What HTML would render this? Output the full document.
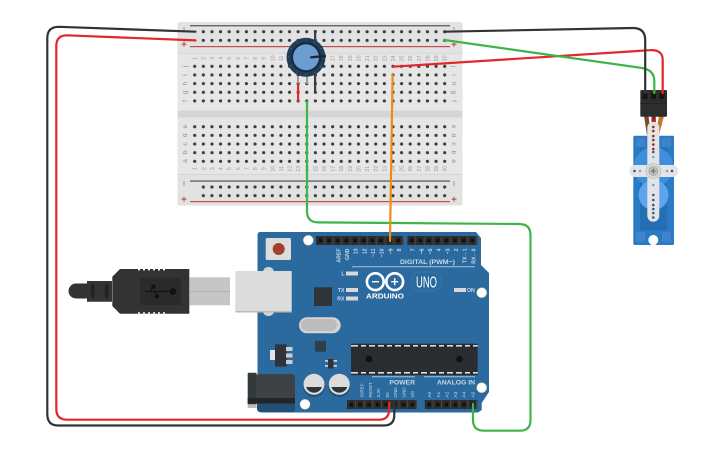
<!DOCTYPE html>
<html><head><meta charset="utf-8"><style>
html,body{margin:0;padding:0;background:#fff}
svg{display:block;font-family:"Liberation Sans",sans-serif}
.n{font-size:5.2px;fill:#999;text-anchor:middle}
.l{font-size:6.5px;fill:#8a8a8a;text-anchor:middle}
.p{font-size:5.2px;fill:#c9d9e6;font-weight:bold;text-anchor:end}
.q{font-size:4.6px;fill:#c9d9e6;text-anchor:start}
.w{fill:none;stroke-width:2.2;stroke-linecap:round;stroke-linejoin:round}
</style></head><body>
<svg width="725" height="453" viewBox="0 0 725 453" xmlns="http://www.w3.org/2000/svg">
<defs>
<pattern id="h" patternUnits="userSpaceOnUse" x="190.4" y="62" width="8.62" height="8.65"><circle cx="4.31" cy="4.32" r="1.6" fill="#3a3a3a"/></pattern>
<pattern id="r1" patternUnits="userSpaceOnUse" x="199" y="27.4" width="8.62" height="8.65"><circle cx="4.31" cy="4.32" r="1.6" fill="#3a3a3a"/></pattern>
<pattern id="r2" patternUnits="userSpaceOnUse" x="199" y="182.7" width="8.62" height="8.65"><circle cx="4.31" cy="4.32" r="1.6" fill="#3a3a3a"/></pattern>
<pattern id="m" patternUnits="userSpaceOnUse" x="190.4" y="122.4" width="8.62" height="8.65"><circle cx="4.31" cy="4.32" r="1.6" fill="#3a3a3a"/></pattern>
<pattern id="hd1" patternUnits="userSpaceOnUse" x="316" y="236" width="8.66" height="9"><rect x="2.6" y="2.6" width="3.6" height="3.8" fill="#111"/><rect x="8.1" width=".6" height="9" fill="#555"/></pattern>
<pattern id="hd2" patternUnits="userSpaceOnUse" x="407.3" y="236" width="8.66" height="9"><rect x="2.6" y="2.6" width="3.6" height="3.8" fill="#111"/><rect x="8.1" width=".6" height="9" fill="#555"/></pattern>
<pattern id="hd3" patternUnits="userSpaceOnUse" x="347" y="400" width="8.7" height="9"><rect x="2.6" y="2.6" width="3.6" height="3.8" fill="#111"/><rect x="8.1" width=".6" height="9" fill="#555"/></pattern>
<pattern id="hd4" patternUnits="userSpaceOnUse" x="424.7" y="400" width="8.7" height="9"><rect x="2.6" y="2.6" width="3.6" height="3.8" fill="#111"/><rect x="8.1" width=".6" height="9" fill="#555"/></pattern>
</defs>

<!-- Breadboard -->
<rect x="177.5" y="22" width="285" height="183.5" rx="2" fill="#e2e2e2"/>
<rect x="177.5" y="53" width="285" height="121" fill="#e6e6e6"/>
<rect x="177.5" y="53" width="285" height=".7" fill="#d2d2d2"/>
<rect x="177.5" y="174" width="285" height=".7" fill="#d2d2d2"/>
<rect x="177.5" y="110.7" width="285" height="6.8" fill="#d5d5d5"/>
<rect x="190" y="25" width="260" height="1.4" fill="#666"/>
<rect x="190" y="46" width="260" height="1.2" fill="#b9504c"/>
<rect x="190" y="180.4" width="260" height="1.4" fill="#666"/>
<rect x="190" y="201" width="260" height="1.2" fill="#b9504c"/>
<rect x="199" y="27.4" width="250" height="17.3" fill="url(#r1)"/>
<rect x="199" y="182.7" width="250" height="17.3" fill="url(#r2)"/>
<rect x="190.4" y="62" width="258.6" height="43.25" fill="url(#h)"/>
<rect x="190.4" y="122.4" width="258.6" height="43.25" fill="url(#m)"/>
<g fill="#c0413a"><rect x="181.5" y="43.7" width="5" height="1"/><rect x="183.5" y="41.7" width="1" height="5"/><rect x="451.5" y="43.7" width="5" height="1"/><rect x="453.5" y="41.7" width="1" height="5"/><rect x="181.5" y="198.7" width="5" height="1"/><rect x="183.5" y="196.7" width="1" height="5"/><rect x="451.5" y="198.7" width="5" height="1"/><rect x="453.5" y="196.7" width="1" height="5"/></g>
<g fill="#999"><rect x="183.5" y="27" width="1" height="5"/><rect x="453.5" y="27" width="1" height="5"/><rect x="183.5" y="181" width="1" height="5"/><rect x="453.5" y="181" width="1" height="5"/></g>
<g class="nums">
<text class="n" transform="translate(196.7,58.3) rotate(-90)">1</text><text class="n" transform="translate(205.3,58.3) rotate(-90)">2</text><text class="n" transform="translate(213.9,58.3) rotate(-90)">3</text><text class="n" transform="translate(222.6,58.3) rotate(-90)">4</text><text class="n" transform="translate(231.2,58.3) rotate(-90)">5</text><text class="n" transform="translate(239.8,58.3) rotate(-90)">6</text><text class="n" transform="translate(248.4,58.3) rotate(-90)">7</text><text class="n" transform="translate(257,58.3) rotate(-90)">8</text><text class="n" transform="translate(265.7,58.3) rotate(-90)">9</text><text class="n" transform="translate(274.3,58.3) rotate(-90)">10</text><text class="n" transform="translate(282.9,58.3) rotate(-90)">11</text><text class="n" transform="translate(334.6,58.3) rotate(-90)">17</text><text class="n" transform="translate(343.2,58.3) rotate(-90)">18</text><text class="n" transform="translate(351.9,58.3) rotate(-90)">19</text><text class="n" transform="translate(360.5,58.3) rotate(-90)">20</text><text class="n" transform="translate(369.1,58.3) rotate(-90)">21</text><text class="n" transform="translate(377.7,58.3) rotate(-90)">22</text><text class="n" transform="translate(386.3,58.3) rotate(-90)">23</text><text class="n" transform="translate(395,58.3) rotate(-90)">24</text><text class="n" transform="translate(403.6,58.3) rotate(-90)">25</text><text class="n" transform="translate(412.2,58.3) rotate(-90)">26</text><text class="n" transform="translate(420.8,58.3) rotate(-90)">27</text><text class="n" transform="translate(429.4,58.3) rotate(-90)">28</text><text class="n" transform="translate(438.1,58.3) rotate(-90)">29</text><text class="n" transform="translate(446.7,58.3) rotate(-90)">30</text>
<text class="n" transform="translate(196.7,168.7) rotate(-90)">1</text><text class="n" transform="translate(205.3,168.7) rotate(-90)">2</text><text class="n" transform="translate(213.9,168.7) rotate(-90)">3</text><text class="n" transform="translate(222.6,168.7) rotate(-90)">4</text><text class="n" transform="translate(231.2,168.7) rotate(-90)">5</text><text class="n" transform="translate(239.8,168.7) rotate(-90)">6</text><text class="n" transform="translate(248.4,168.7) rotate(-90)">7</text><text class="n" transform="translate(257,168.7) rotate(-90)">8</text><text class="n" transform="translate(265.7,168.7) rotate(-90)">9</text><text class="n" transform="translate(274.3,168.7) rotate(-90)">10</text><text class="n" transform="translate(282.9,168.7) rotate(-90)">11</text><text class="n" transform="translate(291.5,168.7) rotate(-90)">12</text><text class="n" transform="translate(300.1,168.7) rotate(-90)">13</text><text class="n" transform="translate(308.8,168.7) rotate(-90)">14</text><text class="n" transform="translate(317.4,168.7) rotate(-90)">15</text><text class="n" transform="translate(326,168.7) rotate(-90)">16</text><text class="n" transform="translate(334.6,168.7) rotate(-90)">17</text><text class="n" transform="translate(343.2,168.7) rotate(-90)">18</text><text class="n" transform="translate(351.9,168.7) rotate(-90)">19</text><text class="n" transform="translate(360.5,168.7) rotate(-90)">20</text><text class="n" transform="translate(369.1,168.7) rotate(-90)">21</text><text class="n" transform="translate(377.7,168.7) rotate(-90)">22</text><text class="n" transform="translate(386.3,168.7) rotate(-90)">23</text><text class="n" transform="translate(395,168.7) rotate(-90)">24</text><text class="n" transform="translate(403.6,168.7) rotate(-90)">25</text><text class="n" transform="translate(412.2,168.7) rotate(-90)">26</text><text class="n" transform="translate(420.8,168.7) rotate(-90)">27</text><text class="n" transform="translate(429.4,168.7) rotate(-90)">28</text><text class="n" transform="translate(438.1,168.7) rotate(-90)">29</text><text class="n" transform="translate(446.7,168.7) rotate(-90)">30</text>
<text class="l" transform="translate(187,66.3) rotate(-90)">j</text><text class="l" transform="translate(187,75) rotate(-90)">i</text><text class="l" transform="translate(187,83.7) rotate(-90)">h</text><text class="l" transform="translate(187,92.3) rotate(-90)">g</text><text class="l" transform="translate(187,101) rotate(-90)">f</text>
<text class="l" transform="translate(187,126.7) rotate(-90)">e</text><text class="l" transform="translate(187,135.3) rotate(-90)">d</text><text class="l" transform="translate(187,144) rotate(-90)">c</text><text class="l" transform="translate(187,152.3) rotate(-90)">b</text><text class="l" transform="translate(187,161) rotate(-90)">a</text>
<text class="l" transform="translate(452,66.3) rotate(90)">j</text><text class="l" transform="translate(452,75) rotate(90)">i</text><text class="l" transform="translate(452,83.7) rotate(90)">h</text><text class="l" transform="translate(452,92.3) rotate(90)">g</text><text class="l" transform="translate(452,101) rotate(90)">f</text>
<text class="l" transform="translate(452,126.7) rotate(90)">e</text><text class="l" transform="translate(452,135.3) rotate(90)">d</text><text class="l" transform="translate(452,144) rotate(90)">c</text><text class="l" transform="translate(452,152.3) rotate(90)">b</text><text class="l" transform="translate(452,161) rotate(90)">a</text>
</g>

<!-- Pot -->
<rect x="314" y="30" width="2.2" height="63.5" fill="#3a3f42"/>
<rect x="297" y="76" width="2" height="8" fill="#999"/>
<rect x="306" y="76" width="2" height="8" fill="#999"/>
<rect x="297" y="83" width="2.2" height="18.5" fill="#e8262a"/>
<circle cx="306" cy="57.3" r="19.5" fill="#1f3d59"/>
<circle cx="306" cy="57.3" r="17.3" fill="none" stroke="#4c7397" stroke-width="1" stroke-dasharray="1 8"/>
<circle cx="306" cy="57.3" r="15" fill="#16283a"/>
<circle cx="306" cy="57.3" r="13" fill="#6c9dd1"/>
<path d="M310.3 56.2 L326 54.8 V57.3 L310.3 58.5Z" fill="#1c2730"/>

<!-- Arduino -->
<path d="M260 232 H476 L481 238 V265 L489 273 V392 L481.7 403 V410 L478 412.5 H262 Q257.5 412.5 257.5 408 V235 Q257.5 232 260 232Z" fill="#2b6a9e"/>
<circle cx="308.3" cy="240.3" r="4.8" fill="#fff" stroke="#f0e6c4" stroke-width=".8"/>
<circle cx="481.7" cy="292.7" r="4.8" fill="#fff" stroke="#f0e6c4" stroke-width=".8"/>
<circle cx="481.7" cy="387.7" r="4.8" fill="#fff" stroke="#f0e6c4" stroke-width=".8"/>
<circle cx="305" cy="404.3" r="4.8" fill="#fff" stroke="#f0e6c4" stroke-width=".8"/>
<rect x="316" y="236" width="87.3" height="9" fill="#2d2d2d"/><rect x="316" y="236" width="87.3" height="9" fill="url(#hd1)"/>
<rect x="407.3" y="236" width="70" height="9" fill="#2d2d2d"/><rect x="407.3" y="236" width="70" height="9" fill="url(#hd2)"/>
<rect x="347" y="400" width="70" height="9" fill="#2d2d2d"/><rect x="347" y="400" width="70" height="9" fill="url(#hd3)"/>
<rect x="424.7" y="400" width="52.6" height="9" fill="#2d2d2d"/><rect x="424.7" y="400" width="52.6" height="9" fill="url(#hd4)"/>
<rect x="265.7" y="238" width="25.3" height="22" rx="1.5" fill="#dcdcdc"/>
<circle cx="278.7" cy="249" r="6" fill="#a33f2c"/>
<rect x="263" y="267" width="11" height="49" rx="5" fill="#d4d4d4"/>
<rect x="235.3" y="271" width="56.4" height="41.5" fill="#dcdcdc"/>
<rect x="235.3" y="311" width="56.4" height="1.5" fill="#bbb"/>
<rect x="314" y="287.3" width="18" height="18.7" fill="#2e3438"/>
<rect x="299" y="317.3" width="41.7" height="16" rx="8" fill="#d4d4d4"/>
<rect x="301" y="319" width="36" height="12" rx="6" fill="#bcbcbc"/>
<rect x="315" y="340.7" width="11" height="11" fill="#2e3f4c"/>
<rect x="270" y="350" width="6" height="10" fill="#e4e4e4"/>
<rect x="275" y="344.3" width="11.7" height="22.4" fill="#2e3438"/>
<rect x="286" y="347" width="6.5" height="4" fill="#ccc"/><rect x="286" y="353.5" width="6.5" height="4" fill="#ccc"/><rect x="286" y="360" width="6.5" height="4" fill="#ccc"/>
<rect x="325" y="360" width="12" height="1.8" fill="#ccc"/><rect x="325" y="365" width="12" height="1.8" fill="#ccc"/><rect x="328" y="359" width="5.5" height="9.5" fill="#2e3438"/>
<rect x="351" y="343.7" width="126.7" height="31.5" fill="#2a2d2f"/>
<rect x="351" y="345" width="126.7" height="1.6" fill="#ddd"/>
<rect x="351" y="372" width="126.7" height="1.6" fill="#ddd"/>
<g fill="#2a2d2f"><rect x="358" y="344.5" width="3" height="3"/><rect x="366" y="344.5" width="3" height="3"/><rect x="375" y="344.5" width="3" height="3"/><rect x="384" y="344.5" width="3" height="3"/><rect x="392" y="344.5" width="3" height="3"/><rect x="401" y="344.5" width="3" height="3"/><rect x="410" y="344.5" width="3" height="3"/><rect x="418" y="344.5" width="3" height="3"/><rect x="427" y="344.5" width="3" height="3"/><rect x="436" y="344.5" width="3" height="3"/><rect x="444" y="344.5" width="3" height="3"/><rect x="453" y="344.5" width="3" height="3"/><rect x="462" y="344.5" width="3" height="3"/><rect x="470" y="344.5" width="3" height="3"/>
<rect x="358" y="371.5" width="3" height="3"/><rect x="366" y="371.5" width="3" height="3"/><rect x="375" y="371.5" width="3" height="3"/><rect x="384" y="371.5" width="3" height="3"/><rect x="392" y="371.5" width="3" height="3"/><rect x="401" y="371.5" width="3" height="3"/><rect x="410" y="371.5" width="3" height="3"/><rect x="418" y="371.5" width="3" height="3"/><rect x="427" y="371.5" width="3" height="3"/><rect x="436" y="371.5" width="3" height="3"/><rect x="444" y="371.5" width="3" height="3"/><rect x="453" y="371.5" width="3" height="3"/><rect x="462" y="371.5" width="3" height="3"/><rect x="470" y="371.5" width="3" height="3"/></g>
<circle cx="369" cy="359" r="3.4" fill="#111"/><circle cx="459.5" cy="359" r="3.4" fill="#111"/>
<!-- caps -->
<circle cx="314" cy="386" r="11" fill="#234f75"/><circle cx="339.3" cy="386" r="11" fill="#234f75"/>
<circle cx="314" cy="384.3" r="10.5" fill="#dcdcdc"/><circle cx="339.3" cy="384.3" r="10.5" fill="#dcdcdc"/>
<path d="M306 387 H322 A8.5 8.5 0 0 1 306 387Z" fill="#2e3438"/>
<path d="M331.3 387 H347.3 A8.5 8.5 0 0 1 331.3 387Z" fill="#2e3438"/>
<!-- jack -->
<rect x="257" y="400" width="38" height="12" rx="3" fill="#234f75"/>
<rect x="247.7" y="402" width="9" height="6" fill="#bdbdbd"/>
<rect x="247.7" y="372.7" width="9" height="31.6" rx="1" fill="#33383b"/>
<rect x="256" y="374" width="39" height="29" rx="3" fill="#3d4245"/>
<rect x="247.7" y="398" width="47.3" height="5.5" fill="#232527"/>

<!-- logo & text -->
<g fill="none" stroke="#fff" stroke-width="2.6"><circle cx="375.3" cy="281.7" r="8.4"/><circle cx="394.7" cy="281.7" r="8.4"/></g>
<rect x="372" y="281" width="7" height="1.4" fill="#fff"/><rect x="391.2" y="281" width="7" height="1.4" fill="#fff"/><rect x="394" y="278.2" width="1.4" height="7" fill="#fff"/>
<text x="366" y="298.3" font-size="7" font-weight="bold" textLength="38" lengthAdjust="spacingAndGlyphs" fill="#fff">ARDUINO</text>
<rect x="411" y="272" width="30" height="19" rx="9.5" fill="none" stroke="#3b7bb0" stroke-width=".7"/>
<text x="416" y="287.3" font-size="16" textLength="21" lengthAdjust="spacingAndGlyphs" fill="#fff">UNO</text>
<rect x="352" y="266.4" width="123" height=".8" fill="#c9d9e6"/>
<text x="400" y="264" font-size="6.4" font-weight="bold" fill="#c9d9e6" textLength="55" lengthAdjust="spacingAndGlyphs">DIGITAL (PWM~)</text>
<g fill="#c9d9e6" font-weight="bold" font-size="5.2"><text x="344.5" y="275.5" text-anchor="end">L</text><text x="344.5" y="292" text-anchor="end">TX</text><text x="344.5" y="300.5" text-anchor="end">RX</text><text x="467" y="292">ON</text></g>
<g fill="#d8d8d8"><rect x="346" y="271.5" width="12" height="4"/><rect x="346" y="288" width="12" height="4"/><rect x="346" y="296.5" width="12" height="4"/><rect x="454" y="288" width="12" height="4"/></g>
<g class="toplabels">
<text class="p" transform="translate(340.3,248.5) rotate(-90)">AREF</text><text class="p" transform="translate(349,248.5) rotate(-90)">GND</text><text class="p" transform="translate(357.7,248.5) rotate(-90)">13</text><text class="p" transform="translate(366.3,248.5) rotate(-90)">12</text><text class="p" transform="translate(375,248.5) rotate(-90)">~11</text><text class="p" transform="translate(383.7,248.5) rotate(-90)">~10</text><text class="p" transform="translate(392.3,248.5) rotate(-90)">~9</text><text class="p" transform="translate(401,248.5) rotate(-90)">8</text><text class="p" transform="translate(414.7,248.5) rotate(-90)">7</text><text class="p" transform="translate(423.3,248.5) rotate(-90)">~6</text><text class="p" transform="translate(432,248.5) rotate(-90)">~5</text><text class="p" transform="translate(440.7,248.5) rotate(-90)">4</text><text class="p" transform="translate(449.3,248.5) rotate(-90)">~3</text><text class="p" transform="translate(458,248.5) rotate(-90)">2</text><text class="p" transform="translate(466.7,248.5) rotate(-90)">TX→1</text><text class="p" transform="translate(475.3,248.5) rotate(-90)">RX←0</text>
</g>
<rect x="372" y="376.4" width="43" height=".8" fill="#c9d9e6"/><rect x="424" y="376.4" width="51" height=".8" fill="#c9d9e6"/>
<text x="415" y="384.3" text-anchor="end" font-size="6.8" font-weight="bold" fill="#c9d9e6">POWER</text>
<text x="475" y="384.3" text-anchor="end" font-size="6.8" font-weight="bold" fill="#c9d9e6">ANALOG IN</text>
<text class="q" transform="translate(363.4,397.5) rotate(-90)">IOREF</text><text class="q" transform="translate(371.8,397.5) rotate(-90)">RESET</text><text class="q" transform="translate(380,397.5) rotate(-90)">3.3V</text><text class="q" transform="translate(388.8,397.5) rotate(-90)">5V</text><text class="q" transform="translate(397,397.5) rotate(-90)">GND</text><text class="q" transform="translate(405.5,397.5) rotate(-90)">GND</text><text class="q" transform="translate(414,397.5) rotate(-90)">Vin</text>
<text class="q" transform="translate(431,397.5) rotate(-90)">A0</text><text class="q" transform="translate(440,397.5) rotate(-90)">A1</text><text class="q" transform="translate(448.7,397.5) rotate(-90)">A2</text><text class="q" transform="translate(457,397.5) rotate(-90)">A3</text><text class="q" transform="translate(465.7,397.5) rotate(-90)">A4</text><text class="q" transform="translate(474.3,397.5) rotate(-90)">A5</text>

<!-- USB plug -->
<rect x="189.5" y="277.3" width="40.5" height="28" fill="#c6c6c6"/>
<rect x="189.5" y="291" width="40.5" height=".8" fill="#aaa"/>
<path d="M76 283.5 H88 V298.5 H76 A7.5 7.5 0 0 1 76 283.5Z" fill="#333"/>
<path d="M87 281 H112 V301.7 H87Z" fill="#333"/>
<ellipse cx="92.7" cy="291" rx="2" ry="8" fill="#222"/><ellipse cx="106.7" cy="291" rx="2" ry="8" fill="#222"/>
<path d="M112.3 276.7 L120 269 H189.3 V313.7 H120 L112.3 306Z" fill="#333"/>
<rect x="140" y="277.7" width="41" height="27.3" fill="#2a2a2a"/>
<g stroke="#111" stroke-width="1" fill="#111"><path d="M145 291.5 H172"/><circle cx="173" cy="291.5" r="2.8"/><rect x="152" y="285" width="3" height="3"/><circle cx="157" cy="296.5" r="1.6"/><path d="M150 291.5 L153 286.5 M155 291.5 L157 296"/></g>
<g fill="#fff"><rect x="138" y="269" width="2" height="1.4"/><rect x="143" y="269" width="2" height="1.4"/><rect x="148" y="269" width="2" height="1.4"/><rect x="153" y="269" width="2" height="1.4"/><rect x="158" y="269" width="2" height="1.4"/><rect x="163" y="269" width="2" height="1.4"/><rect x="138" y="312.3" width="2" height="1.4"/><rect x="143" y="312.3" width="2" height="1.4"/><rect x="148" y="312.3" width="2" height="1.4"/><rect x="153" y="312.3" width="2" height="1.4"/><rect x="158" y="312.3" width="2" height="1.4"/><rect x="163" y="312.3" width="2" height="1.4"/></g>

<!-- Servo -->
<rect x="633.3" y="135.7" width="40.7" height="109.3" rx="1.5" fill="#2a7bc4"/>
<rect x="640" y="148" width="27" height="82" fill="#236fb5"/>
<circle cx="653.5" cy="167" r="20" fill="#3d8edb"/>
<circle cx="653.5" cy="195" r="15" fill="#5ea4ee"/>
<rect x="636" y="138" width="9" height="9" rx="1" fill="#3d85c8"/><rect x="662" y="138" width="9" height="9" rx="1" fill="#3d85c8"/>
<rect x="636" y="232" width="9" height="10" rx="1" fill="#3d85c8"/><rect x="662" y="232" width="9" height="10" rx="1" fill="#3d85c8"/>
<circle cx="653.3" cy="240" r="5" fill="#fff"/><rect x="651" y="240" width="4.6" height="6" fill="#fff"/>
<path d="M644 116 L647 135 H651 L648.5 116Z" fill="#7a4a24"/>
<rect x="651.5" y="116" width="4.3" height="10" fill="#a11d22"/>
<path d="M659 116 L655.5 135 H659 L664 116Z" fill="#c9762a"/>
<rect x="647.3" y="121.7" width="12" height="100" rx="6" fill="#e4e4e4"/>
<rect x="629.3" y="165" width="49" height="12" rx="6" fill="#e4e4e4"/>
<circle cx="653.3" cy="171" r="7.5" fill="#d8d8d8" stroke="#bbb" stroke-width=".7"/>
<circle cx="653.3" cy="171" r="4.5" fill="#bdbdbd" stroke="#999" stroke-width=".6"/>
<path d="M650.8 171 H655.8 M653.3 168.5 V173.5" stroke="#666" stroke-width="1"/>
<g fill="#8e2a30"><circle cx="653.3" cy="127" r="1.3"/><circle cx="653.3" cy="131" r="1.3"/><circle cx="653.3" cy="136" r="1.3"/><circle cx="653.3" cy="140" r="1.3"/><circle cx="653.3" cy="144.5" r="1.3"/><circle cx="653.3" cy="149" r="1.3"/></g>
<g fill="#2a5d85"><circle cx="653.3" cy="152" r="1.3"/><circle cx="653.3" cy="195" r="1.3"/><circle cx="653.3" cy="200" r="1.3"/><circle cx="653.3" cy="205" r="1.3"/><circle cx="653.3" cy="209" r="1.3"/><circle cx="653.3" cy="213" r="1.3"/><circle cx="653.3" cy="217.5" r="1.3"/><circle cx="634.5" cy="171" r="1.3"/><circle cx="672" cy="171" r="1.3"/></g>
<g fill="#6ea6dc"><circle cx="653.3" cy="157" r="1.3"/><circle cx="653.3" cy="185" r="1.3"/><circle cx="640" cy="171" r="1.3"/><circle cx="667" cy="171" r="1.3"/></g>
<rect x="640.3" y="90" width="26.7" height="26.7" rx="1" fill="#2d2d2d"/>
<rect x="640.3" y="103" width="26.7" height=".8" fill="#222"/>
<rect x="642.5" y="93" width="5" height="6" fill="#151515"/><rect x="651" y="93" width="5" height="6" fill="#151515"/><rect x="659.5" y="93" width="5" height="6" fill="#151515"/>

<!-- Wires -->
<path class="w" stroke="#2f3437" d="M195.5 31.7 L59 26.8 Q47.3 26.8 47.3 38 V414 Q47.3 425.5 58 425.5 H384 Q394.3 425.5 394.3 415 V403"/>
<path class="w" stroke="#e3262b" d="M195.5 40.4 L67 35.3 Q56.3 35.3 56.3 46 V409 Q56.3 419.7 67 419.7 H379 Q389 419.7 389 410 V403"/>
<path class="w" stroke="#3fb549" d="M307 101.5 V211 Q307 222.3 318 222.4 L519 224 Q530.5 224 530.5 235 V420 Q530.5 430.7 520 430.7 H484 Q473 430.7 473 420 V404"/>
<path class="w" stroke="#ef8a12" d="M392.6 75 L390 241"/>
<path class="w" stroke="#e3262b" d="M392.8 66.7 L650 50.2 Q662.7 49.5 662.7 60 V93"/>
<path class="w" stroke="#3fb549" d="M444.5 40 L642 68 Q654.3 70 654.3 81 V93"/>
<path class="w" stroke="#2f3437" d="M444.5 31.7 L633 28 Q645.2 28 645.2 40 V93"/>
</svg>
</body></html>
